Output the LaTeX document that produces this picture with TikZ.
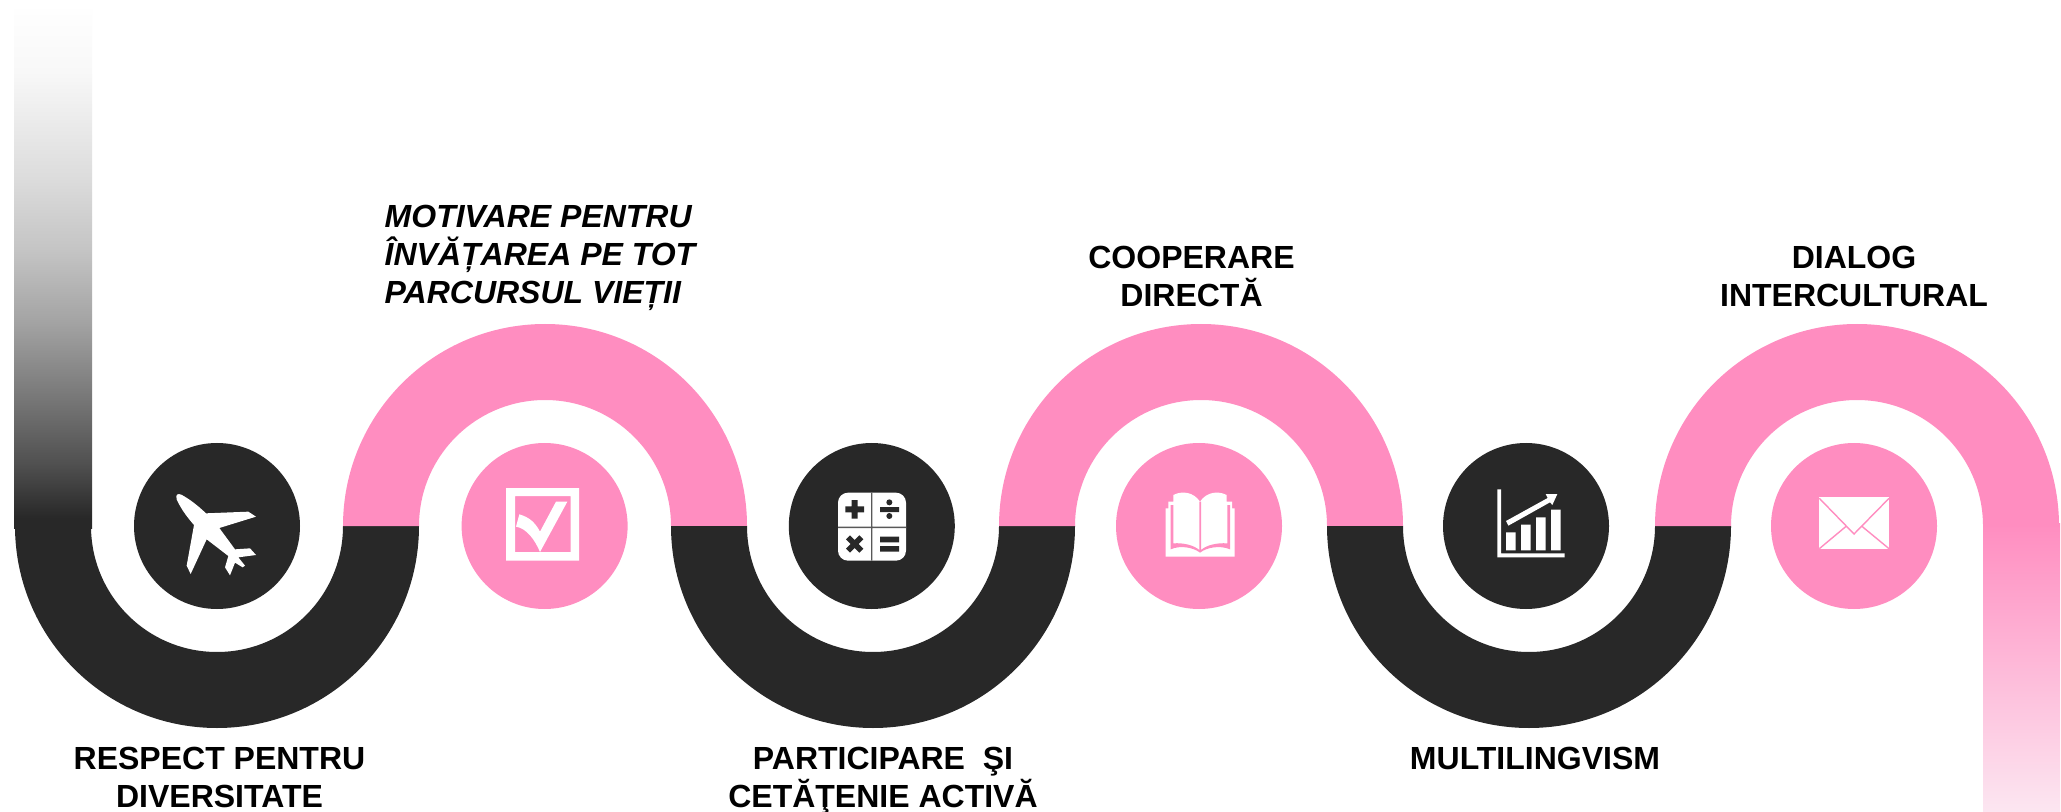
\documentclass[tikz,border=0pt]{standalone}
\usepackage{fontspec}
\setmainfont{Liberation Sans}
\definecolor{blk}{HTML}{282828}
\definecolor{pnk}{HTML}{FF8DC0}
\definecolor{pale}{HTML}{FCE6F1}
\pgfdeclareverticalshading{leftfade}{100bp}{
 rgb(0bp)=(.157,.157,.157); rgb(25bp)=(.157,.157,.157); rgb(26bp)=(.157,.157,.157);
 rgb(31.2bp)=(.314,.314,.314); rgb(38bp)=(.478,.478,.478); rgb(45bp)=(.643,.643,.643);
 rgb(51.8bp)=(.769,.769,.769); rgb(58.8bp)=(.863,.863,.863); rgb(69.1bp)=(.973,.973,.973);
 rgb(75bp)=(.996,.996,.996); rgb(100bp)=(.996,.996,.996)}
\tikzset{
  x=.5pt,y=-.5pt,
  disc/.style={circle,minimum size=83pt,inner sep=0pt,draw=none},
  label text/.style={align=center,font=\fontsize{16}{19}\selectfont\bfseries,text=black,inner sep=0pt,anchor=base},
}
% lower (black) and upper (pink) half rings: centre x
\newcommand{\lowring}[1]{\fill[blk] (#1-202,526) arc[start angle=180,end angle=360,radius=101pt] -- (#1+126,526) arc[start angle=0,end angle=-180,radius=63pt] -- cycle;}
\newcommand{\upring}[1]{\fill[pnk] (#1-202,526) arc[start angle=180,end angle=0,radius=101pt] -- (#1+126,526) arc[start angle=0,end angle=180,radius=63pt] -- cycle;}
\begin{document}
\begin{tikzpicture}
\useasboundingbox (0,0) rectangle (2061,812);
\fill[white] (0,0) rectangle (2061,812);
% gradient bars
\shade[shading=leftfade] (14,10) rectangle (92,528);
\shade[top color=pnk,bottom color=pale] (1983,523) rectangle (2060,812);
% rings
\lowring{217} \upring{545} \lowring{873} \upring{1201} \lowring{1529} \upring{1857}
% discs
\node[disc,fill=blk] (d1) at (217,526) {};
\node[disc,fill=pnk] (d2) at (544.6,526) {};
\node[disc,fill=blk] (d3) at (871.8,526) {};
\node[disc,fill=pnk] (d4) at (1199,526) {};
\node[disc,fill=blk] (d5) at (1526,526) {};
\node[disc,fill=pnk] (d6) at (1854,526) {};
% plane
\begin{scope}[shift={(150,450)},x=.16667pt,y=-.16667pt]
\fill[white] (80,148) .. controls (76,132) and (84,130) .. (94,134) .. controls (120,148) and (145,168) .. (168,190) -- (295,185) -- (318,200) -- (208,234) -- (255,298) -- (300,295) -- (318,315) -- (265,322) -- (285,347) -- (278,352) -- (255,338) -- (240,376) -- (225,352) -- (235,318) -- (170,268) -- (122,372) -- (110,347) -- (132,225) .. controls (110,200) and (92,175) .. (80,148) -- cycle;
\end{scope}
% check box
\begin{scope}[shift={(480,470)},x=.16667pt,y=-.16667pt]
\fill[white,even odd rule] (78,54) rectangle (297,272) (105,78) rectangle (272,246);
\fill[white] (262,95) -- (228,95) -- (180,185) .. controls (162,150) and (140,140) .. (118,133) -- (108,170) .. controls (140,175) and (165,210) .. (180,246) -- cycle;
\end{scope}
% calculator
\begin{scope}[shift={(820,470)},x=.16667pt,y=-.16667pt]
\fill[white,rounded corners=5pt] (54,68) rectangle (258,272);
\fill[black!65] (153,68) rectangle (157,272) (54,170) rectangle (258,174);
\fill[blk] (76,109) rectangle (132,127) (95,90) rectangle (113,146);
\fill[blk] (180,111) rectangle (237,126) (208,97) circle[radius=1.5pt] (208,138) circle[radius=1.5pt];
\fill[blk] (78,208) -- (90,196) -- (104,210) -- (118,196) -- (130,208) -- (116,222) -- (130,236) -- (118,248) -- (104,234) -- (90,248) -- (78,236) -- (92,222) -- cycle;
\fill[blk] (180,200) rectangle (237,217) (180,228) rectangle (237,245);
\end{scope}
% book
\begin{scope}[shift={(1150,470)},x=.16667pt,y=-.16667pt]
\fill[white] (47,260) -- (47,115) -- (55,115) -- (55,95) -- (70,95) -- (70,75) .. controls (95,62) and (130,65) .. (150,95) .. controls (170,65) and (205,62) .. (230,75) -- (230,95) -- (246,95) -- (246,115) -- (254,115) -- (254,260) -- cycle;
\fill[pnk] (70,105) -- (62,105) -- (62,238) .. controls (90,225) and (130,232) .. (150,248) .. controls (170,232) and (210,225) .. (240,238) -- (240,105) -- (232,105) -- (232,220) .. controls (200,218) and (170,225) .. (153,240) -- (153,95) -- (148,95) -- (148,240) .. controls (130,225) and (100,218) .. (70,220) -- cycle;
\end{scope}
% chart
\begin{scope}[shift={(1480,470)},x=.16667pt,y=-.16667pt]
\fill[white] (52,58) rectangle (63,262) (52,250) rectangle (254,262);
\fill[white] (78,187) rectangle (107,241) (123,164) rectangle (152,241) (168,142) rectangle (197,241) (213,119) rectangle (242,241);
\fill[white] (78,153) -- (203,84) -- (197,72) -- (232,72) -- (217,105) -- (210,97) -- (85,167) -- cycle;
\end{scope}
% envelope
\begin{scope}[shift={(1800,470)},x=.16667pt,y=-.16667pt]
\fill[white] (58,82) rectangle (267,236);
\draw[pnk,line width=.7pt] (58,85) -- (162,192) -- (267,85) (58,236) -- (137,170) (267,236) -- (187,170);
\end{scope}
% labels
\node[label text] (t1) at (219.5,807) {RESPECT PENTRU\\DIVERSITATE};
\node[label text,align=left] (t2) at (540,304) {\itshape MOTIVARE PENTRU\\\itshape ÎNVĂȚAREA PE TOT\\\itshape PARCURSUL VIEȚII};
\node[label text] (t3) at (883,807) {PARTICIPARE \ ŞI\\CETĂŢENIE ACTIVĂ};
\node[label text] (t4) at (1191.5,307) {COOPERARE\\DIRECTĂ};
\node[label text] (t5) at (1535,769) {MULTILINGVISM};
\node[label text] (t6) at (1854,307) {DIALOG\\INTERCULTURAL};
\end{tikzpicture}
\end{document}
